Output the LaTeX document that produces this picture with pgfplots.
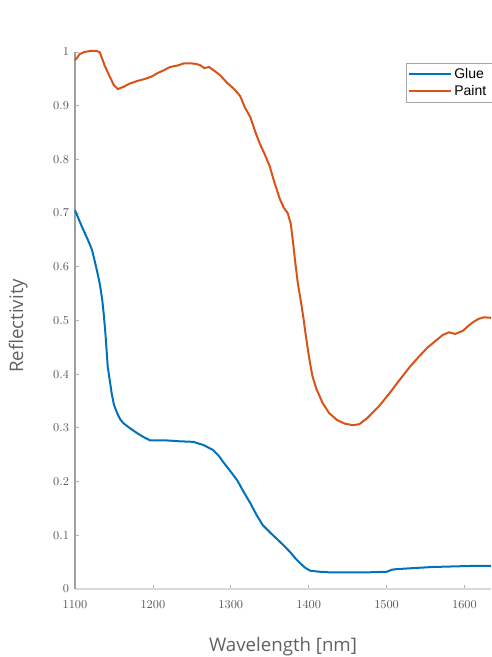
\documentclass[border=0pt]{standalone}
\usepackage{fontspec}
\setmainfont{Open Sans}
\newfontfamily\legfont{Liberation Sans}
\usepackage{pgfplots}
\pgfplotsset{compat=1.18}
\definecolor{mblue}{RGB}{0,114,189}
\definecolor{morange}{RGB}{217,83,25}
\begin{document}
\begin{tikzpicture}
\begin{axis}[
  name=ax,
  scale only axis,
  width=312pt, height=402.75pt,
  xmin=1100, xmax=1634, ymin=0, ymax=1,
  clip=false,
  axis x line=bottom, axis y line=left,
  x axis line style={-, draw=gray!30, line width=0.8pt},
  y axis line style={-, draw=gray!75, line width=1pt},
  tick align=inside,
  major tick length=3pt,
  tick style={gray!60, line width=0.6pt},
  xtick={1100,1200,1300,1400,1500,1600},
  ytick={0,0.1,0.2,0.3,0.4,0.5,0.6,0.7,0.8,0.9,1},
  yticklabels={$0$,$0.1$,$0.2$,$0.3$,$0.4$,$0.5$,$0.6$,$0.7$,$0.8$,$0.9$,$1$},
  xticklabel style={font=\fontsize{9.5}{11}\selectfont, text=black!65, yshift=-5pt},
  yticklabel style={font=\fontsize{9.5}{11}\selectfont, text=black!65, xshift=-1pt},
  /pgf/number format/1000 sep={},
  xlabel={Wavelength [nm]},
  ylabel={Reflectivity},
  label style={font=\fontsize{14}{16}\selectfont, text=black!62},
  xlabel style={at={(0.5,0)}, anchor=north, yshift=-33pt},
  ylabel style={at={(0,0.5)}, anchor=south, rotate=0, xshift=-4pt, yshift=32pt},
  legend style={at={(0.7957,0.9795)}, anchor=north west, draw=gray!70,
    font=\legfont\fontsize{10.5}{12}\selectfont, inner sep=1.5pt,
    row sep=0pt, fill=white},
  legend cell align=left,
  legend image code/.code={\draw[#1] (0pt,0pt) -- (31pt,0pt);},
]
\addplot[mblue, line width=1.5pt] coordinates {
(1100,0.705)(1105,0.688)(1110,0.671)(1116,0.652)(1122,0.631)(1128,0.594)(1132,0.567)(1135,0.538)(1137,0.510)(1139,0.477)(1142,0.414)(1145,0.385)(1147,0.365)(1150,0.343)(1154,0.328)(1158,0.316)(1162,0.309)(1170,0.300)(1180,0.290)(1188,0.283)(1196,0.277)(1205,0.277)(1213,0.277)(1225,0.276)(1235,0.275)(1252,0.274)(1265,0.268)(1277,0.259)(1284,0.249)(1290,0.237)(1298,0.222)(1308,0.203)(1316,0.182)(1325,0.160)(1333,0.138)(1341,0.119)(1352,0.103)(1363,0.088)(1370,0.078)(1376,0.069)(1383,0.057)(1389,0.048)(1396,0.039)(1402,0.034)(1415,0.032)(1427,0.031)(1450,0.031)(1475,0.031)(1500,0.032)(1507,0.036)(1513,0.037)(1535,0.039)(1560,0.041)(1585,0.042)(1611,0.043)(1634,0.043)
};
\addlegendentry{Glue\hspace*{20pt}}
\addplot[morange, line width=1.5pt] coordinates {
(1100,0.985)(1102,0.988)(1106,0.996)(1112,1.0)(1120,1.002)(1128,1.002)(1132,0.999)(1138,0.975)(1145,0.953)(1150,0.938)(1155,0.931)(1162,0.935)(1170,0.941)(1180,0.946)(1190,0.950)(1198,0.954)(1205,0.960)(1214,0.966)(1222,0.972)(1232,0.975)(1240,0.979)(1248,0.979)(1254,0.978)(1260,0.976)(1266,0.970)(1272,0.972)(1278,0.966)(1286,0.957)(1295,0.943)(1305,0.930)(1312,0.918)(1318,0.897)(1325,0.879)(1331,0.853)(1337,0.830)(1344,0.808)(1350,0.787)(1356,0.757)(1363,0.726)(1368,0.710)(1373,0.700)(1377,0.680)(1380,0.644)(1383,0.605)(1386,0.570)(1390,0.535)(1393,0.507)(1396,0.475)(1399,0.445)(1402,0.418)(1405,0.395)(1410,0.372)(1418,0.346)(1426,0.328)(1436,0.315)(1446,0.308)(1457,0.305)(1465,0.307)(1475,0.318)(1490,0.340)(1504,0.365)(1517,0.390)(1530,0.414)(1541,0.432)(1552,0.449)(1562,0.461)(1572,0.473)(1580,0.478)(1588,0.475)(1598,0.481)(1605,0.490)(1611,0.497)(1618,0.503)(1625,0.506)(1634,0.505)
};
\addlegendentry{Paint}
\end{axis}
\pgfresetboundingbox
\path[use as bounding box] ([xshift=-56.25pt,yshift=-51pt]ax.south west) rectangle ([yshift=441.75pt]ax.south east);
\end{tikzpicture}
\end{document}
